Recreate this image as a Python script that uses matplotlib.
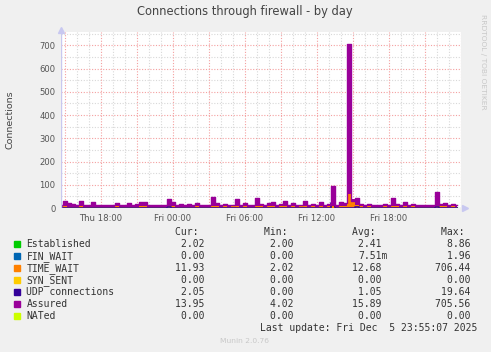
import matplotlib
matplotlib.use("Agg")
import matplotlib.pyplot as plt
import numpy as np

W, H = 491, 352

# munin "by day" data, 20 minute samples starting Thu ~14:40
assured = [14, 30, 22, 16, 12, 30, 14, 12, 26, 14, 12, 13, 11, 15, 22, 14, 13, 20, 12, 16,
           27, 25, 14, 13, 15, 12, 13, 40, 25, 14, 16, 12, 16, 14, 20, 13, 14, 12, 46, 20,
           14, 18, 13, 15, 37, 14, 20, 13, 15, 42, 16, 14, 20, 25, 15, 18, 30, 14, 23, 13,
           15, 30, 14, 18, 13, 25, 14, 16, 95, 14, 25, 20, 706, 30, 45, 18, 14, 16, 13, 15,
           12, 18, 14, 45, 16, 14, 25, 14, 18, 13, 15, 12, 13, 14, 70, 16, 22, 14, 18, 14]
time_wait = [5, 7, 6, 4, 5, 7, 4, 5, 6, 4, 5, 6, 4, 5, 7, 4, 6, 5, 4, 6,
             7, 8, 5, 6, 4, 5, 6, 9, 7, 5, 6, 4, 5, 6, 7, 5, 6, 5, 9, 7,
             6, 8, 5, 7, 9, 6, 7, 5, 6, 9, 7, 6, 8, 9, 6, 7, 9, 6, 8, 5,
             7, 9, 6, 7, 5, 8, 6, 7, 10, 6, 9, 7, 706, 40, 11, 8, 6, 7, 5, 6,
             5, 7, 6, 9, 7, 6, 8, 6, 7, 5, 6, 5, 6, 6, 9, 7, 8, 6, 7, 6]
established = [2, 3, 2, 2, 3, 2, 2, 3, 2, 2, 3, 2, 2, 2, 3, 2, 2, 3, 2, 2,
               3, 2, 2, 2, 3, 2, 2, 4, 3, 2, 2, 2, 3, 2, 2, 3, 2, 2, 4, 3,
               2, 2, 3, 2, 3, 2, 3, 2, 2, 4, 2, 2, 3, 3, 2, 2, 3, 2, 3, 2,
               2, 3, 2, 2, 2, 3, 2, 2, 6, 2, 3, 2, 9, 3, 4, 2, 2, 3, 2, 2,
               2, 3, 2, 4, 2, 2, 3, 2, 2, 2, 3, 2, 2, 2, 4, 2, 3, 2, 2, 2]
udp = [1, 2, 1, 0, 1, 2, 1, 0, 1, 1, 0, 1, 1, 2, 1, 0, 1, 1, 0, 1,
       2, 1, 1, 0, 1, 1, 0, 3, 1, 1, 0, 1, 1, 0, 1, 1, 0, 1, 2, 1,
       1, 0, 1, 1, 2, 1, 1, 0, 1, 2, 1, 1, 0, 2, 1, 1, 2, 1, 1, 0,
       1, 2, 1, 1, 0, 1, 1, 0, 20, 1, 2, 1, 2, 1, 3, 1, 0, 1, 1, 0,
       1, 1, 0, 2, 1, 1, 1, 0, 1, 1, 0, 1, 1, 1, 3, 1, 2, 1, 1, 2]
hours = -9.333 + np.arange(len(assured)) / 3.0   # hours relative to Fri 00:00

tick_hours = [-6, 0, 6, 12, 18]
tick_labels = ["Thu 18:00", "Fri 00:00", "Fri 06:00", "Fri 12:00", "Fri 18:00"]

series = ["Established", "FIN_WAIT", "TIME_WAIT", "SYN_SENT", "UDP connections", "Assured", "NATed"]
colors = ["#00CC00", "#0066B3", "#FF8000", "#FFCC00", "#330099", "#990099", "#CCFF00"]
cur = ["2.02 ", "0.00 ", "11.93 ", "0.00 ", "2.05 ", "13.95 ", "0.00 "]
mins = ["2.00 ", "0.00 ", "2.02 ", "0.00 ", "0.00 ", "4.02 ", "0.00 "]
avgs = ["2.41 ", "7.51m", "12.68 ", "0.00 ", "1.05 ", "15.89 ", "0.00 "]
maxs = ["8.86 ", "1.96 ", "706.44 ", "0.00 ", "19.64 ", "705.56 ", "0.00 "]

sans = "DejaVu Sans"
mono = "DejaVu Sans Mono"


def px(x, y):
    return x / W, 1 - y / H


fig = plt.figure(figsize=(W / 100, H / 100), dpi=100, facecolor="#F0F0F0")
ax = fig.add_axes([61 / W, 1 - 208 / H, 400 / W, 176 / H])
ax.set_facecolor("white")

xmin, xmax = -9.333, 24.0
ax.set_xlim(xmin, xmax)
ax.set_ylim(0, 757)

# grid
for h in np.arange(-9, 24.01, 1):
    if h % 3 == 0:
        ax.axvline(h, color="#F4A0A0", lw=0.8, ls=(0, (1, 1.5)), zorder=1)
    else:
        ax.axvline(h, color="#D8D8D8", lw=0.8, ls=(0, (1, 1.5)), zorder=0.5)
for v in range(50, 751, 50):
    if v % 100 == 0:
        ax.axhline(v, color="#F4A0A0", lw=0.8, ls=(0, (1, 1.5)), zorder=1)
    else:
        ax.axhline(v, color="#D8D8D8", lw=0.8, ls=(0, (1, 1.5)), zorder=0.5)

# dense 5-minute lines look filled in the original, so fill below each line
step = "steps-mid"
ax.plot(hours, established, color=colors[0], lw=1.5, zorder=2, drawstyle=step)
ax.fill_between(hours, 0, time_wait, step="mid", color=colors[2], lw=0, zorder=3)
ax.plot(hours, udp, color=colors[4], lw=1.2, zorder=4, drawstyle=step)
floor = np.minimum(time_wait, 60)   # orange only shows low down under the purple
ax.fill_between(hours, floor, assured, step="mid", color=colors[5], lw=0, zorder=5)
ax.plot(hours, assured, color=colors[5], lw=1.0, zorder=5, drawstyle=step)
ax.plot(hours, np.zeros(len(hours)), color=colors[6], lw=0.8, zorder=5)

for s in ax.spines.values():
    s.set_visible(False)
ax.axvline(xmin, color="#C8C8F0", lw=1, zorder=6)
ax.axhline(0, color="#C8C8F0", lw=1, zorder=1.5)
ax.plot([0], [1.01], marker="^", ms=4.5, color="#C8C8F0", transform=ax.transAxes, clip_on=False)
ax.plot([1.01], [0], marker=">", ms=4.5, color="#C8C8F0", transform=ax.transAxes, clip_on=False)

ax.set_xticks(tick_hours)
ax.set_xticklabels(tick_labels)
ax.set_yticks(range(0, 701, 100))
ax.tick_params(length=0, labelsize=6.1, colors="#555555", pad=4)
for lab in ax.get_xticklabels() + ax.get_yticklabels():
    lab.set_family(sans)

fig.text(*px(245, 12), "Connections through firewall - by day", ha="center", va="center",
         fontsize=8.3, color="#444444", family=sans)
fig.text(*px(10, 120), "Connections", rotation=90, ha="center", va="center",
         fontsize=6.8, color="#444444", family=sans)
fig.text(*px(483, 62), "RRDTOOL / TOBI OETIKER", rotation=270, ha="center", va="center",
         fontsize=5.4, color="#C8C8C8", family=sans)

# legend block
fs = 7
for x, t in zip([204, 293, 381, 470], ["Cur:", "Min:", "Avg:", "Max:"]):
    fig.text(*px(x, 232), t + " ", ha="right", va="center", fontsize=fs, color="#333333", family=mono)
for k, name in enumerate(series):
    y = 244.3 + 12 * k
    fig.patches.append(plt.Rectangle(px(14, y + 3), 6 / W, 6 / H, color=colors[k],
                                     transform=fig.transFigure, figure=fig))
    fig.text(*px(26.5, y), name, ha="left", va="center", fontsize=fs, color="#333333", family=mono)
    for x, col in zip([210, 299, 387.5, 476], [cur, mins, avgs, maxs]):
        fig.text(*px(x, y), col[k], ha="right", va="center", fontsize=fs, color="#333333", family=mono)
fig.text(*px(477, 328.3), "Last update: Fri Dec  5 23:55:07 2025", ha="right", va="center",
         fontsize=fs, color="#333333", family=mono)
fig.text(*px(245, 341), "Munin 2.0.76", ha="center", va="center", fontsize=5.4,
         color="#C8C8C8", family=sans)

fig.savefig("out.png", dpi=100, facecolor=fig.get_facecolor())
